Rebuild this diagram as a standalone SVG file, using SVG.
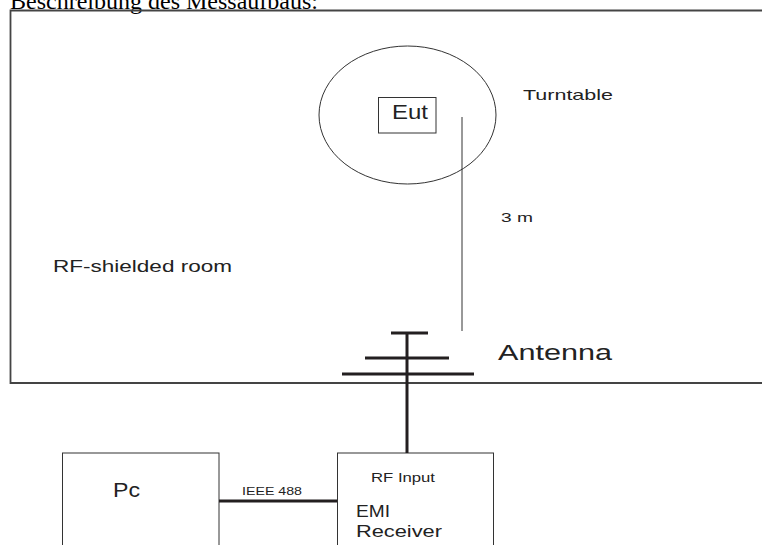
<svg xmlns="http://www.w3.org/2000/svg" width="762" height="545" viewBox="0 0 762 545">
<style>
.t{font-family:"Liberation Sans","DejaVu Sans",sans-serif;fill:#222}
.thin{fill:none;stroke:#333;stroke-width:1}
.thick{fill:none;stroke:#231f20;stroke-width:3}
</style>
<rect width="762" height="545" fill="#fff"/>
<text x="10" y="9" font-family="Liberation Serif, serif" font-size="24" fill="#000" textLength="308" lengthAdjust="spacingAndGlyphs">Beschreibung des Messaufbaus:</text>
<g id="room">
<path d="M770 10.5 H10.5 V383 H770" fill="none" stroke="#444" stroke-width="1.8"/>
<text class="t" x="53" y="272" font-size="17" textLength="179" lengthAdjust="spacingAndGlyphs">RF-shielded room</text>
</g>
<g id="turntable">
<ellipse class="thin" cx="407.5" cy="115" rx="88.5" ry="69"/>
<text class="t" x="523" y="100" font-size="15" textLength="90" lengthAdjust="spacingAndGlyphs">Turntable</text>
</g>
<g id="eut">
<rect class="thin" x="378.5" y="97.5" width="57.5" height="35.5"/>
<text class="t" x="392" y="119" font-size="20" textLength="36" lengthAdjust="spacingAndGlyphs">Eut</text>
</g>
<g id="antenna">
<path class="thick" d="M391 333H428M365 358H449M342 374H474"/>
<text class="t" x="498" y="360" font-size="22" textLength="114" lengthAdjust="spacingAndGlyphs">Antenna</text>
</g>
<g id="pc">
<rect class="thin" x="62.5" y="453" width="156.5" height="100"/>
<text class="t" x="113" y="497" font-size="20" textLength="27" lengthAdjust="spacingAndGlyphs">Pc</text>
</g>
<g id="receiver">
<rect class="thin" x="337.5" y="453" width="156" height="100"/>
<text class="t" x="371" y="482" font-size="13" textLength="64" lengthAdjust="spacingAndGlyphs">RF Input</text>
<text class="t" x="356" y="517" font-size="16" textLength="34" lengthAdjust="spacingAndGlyphs">EMI</text>
<text class="t" x="356" y="537" font-size="16" textLength="86" lengthAdjust="spacingAndGlyphs">Receiver</text>
</g>
<g id="connectors">
<line class="thin" x1="462" y1="117" x2="462" y2="331"/>
<text class="t" x="501" y="222" font-size="12" textLength="32" lengthAdjust="spacingAndGlyphs">3 m</text>
<line class="thick" x1="407" y1="333" x2="407" y2="453"/>
<line class="thick" x1="219" y1="501" x2="337" y2="501"/>
<text class="t" x="242" y="495" font-size="11" textLength="60" lengthAdjust="spacingAndGlyphs">IEEE 488</text>
</g>
</svg>
